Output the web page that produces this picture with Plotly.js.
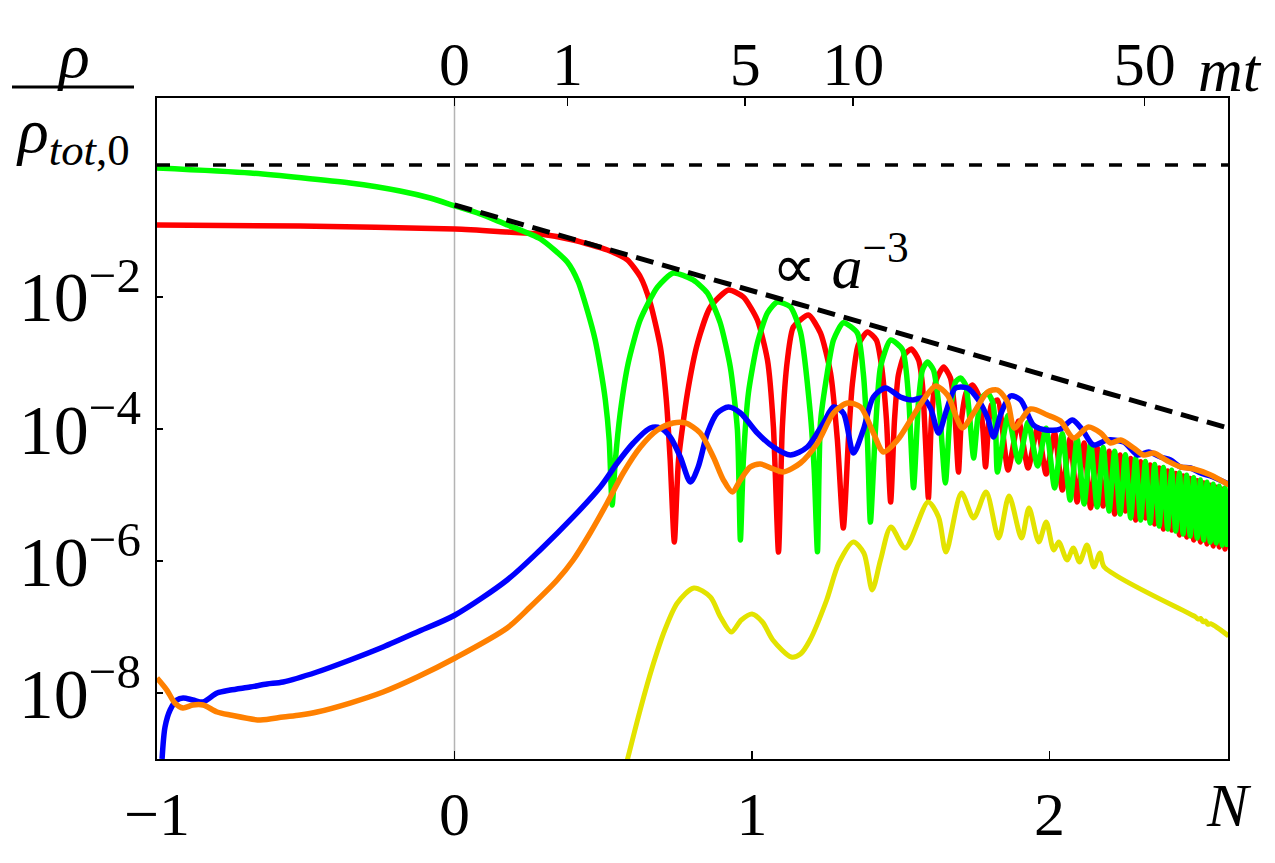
<!DOCTYPE html>
<html>
<head>
<meta charset="utf-8">
<script src="https://cdn.plot.ly/plotly-3.0.1.min.js"></script>
<style>html,body{margin:0;padding:0;background:#fff}#chart{width:1275px;height:863px}</style>
</head>
<body>
<div id="chart"></div>
<script>
// ---------- data (N = e-folds, values given as log10 of rho/rho_tot,0) ----------
const greenN = [-1.0,-0.687,-0.351,-0.183,-0.082,0.002,0.086,0.178,0.289,0.379,0.416,0.446,0.473,0.490,0.507,0.520,0.530,
  0.540,0.557,0.584,0.624,0.682,0.735,0.802,0.850,0.893,0.927,0.951,0.961,
  0.971,0.988,1.018,1.052,1.085,1.129,1.163,1.196,1.209,1.220,
  1.230,1.253,1.274,1.307,1.354,1.374,1.388,1.398,
  1.415,1.432,1.466,1.506,1.527,1.543,
  1.560,1.573,1.590,1.610,1.630,1.650,
  1.667,1.684,1.701,1.718,1.731,1.745,
  1.758,1.772,1.792,1.809,1.819,1.825,
  1.8607,1.8961,1.9280,1.9600,1.9886,2.0172,2.0432,2.0693,2.0928,2.1164,2.1382,2.1601,2.1803,2.2005,
  2.2190,2.2375,2.2551,2.2728,2.2896,2.3064,2.3224,2.3384,2.3535,2.3687,2.3829,2.3972,2.4107,2.4241,
  2.4367,2.4493,2.4611,2.4729,2.4847,2.4965,2.5074,2.5183,2.5293,2.5402,2.5503,2.5604,2.5705,2.5806,
  2.5898,2.5991];
const greenLog = [-0.045,-0.121,-0.273,-0.394,-0.5,-0.621,-0.742,-0.909,-1.121,-1.470,-1.773,-2.197,-2.652,-3.061,-3.561,-4.167,-5.152,
  -4.515,-3.76,-3.0,-2.35,-1.85,-1.636,-1.742,-1.94,-2.39,-3.06,-4.015,-5.68,
  -4.47,-3.455,-2.70,-2.24,-2.076,-2.15,-2.53,-3.76,-4.62,-5.86,
  -3.91,-3.15,-2.65,-2.39,-2.545,-3.15,-4.17,-5.41,
  -4.01,-3.06,-2.65,-2.80,-3.56,-4.89,
  -3.561,-3.106,-2.985,-3.106,-3.712,-4.818,
  -3.712,-3.288,-3.227,-3.333,-3.788,-4.439,
  -3.864,-3.530,-3.455,-3.591,-4.015,-4.652,
  -3.795,-4.50,-3.897,-4.56,-3.988,-4.894,-4.071,-5.076,-4.146,-5.136,-4.215,-5.182,-4.279,-5.242,
  -4.336,-5.288,-4.391,-5.348,-4.442,-5.379,-4.492,-5.424,-4.539,-5.47,-4.583,-5.515,-4.626,-5.545,
  -4.665,-5.591,-4.702,-5.621,-4.738,-5.652,-4.771,-5.682,-4.805,-5.712,-4.836,-5.727,-4.867,-5.758,
  -4.895,-5.788];

const redN = [-1.0,-0.519,0.002,0.177,0.288,0.399,0.514,0.581,0.625,0.658,0.692,0.712,0.725,0.739,
  0.753,0.783,0.817,0.860,0.921,0.971,1.018,1.052,1.072,1.089,
  1.102,1.119,1.139,1.190,1.230,1.264,1.287,1.307,
  1.324,1.337,1.357,1.388,1.418,1.435,1.452,1.466,
  1.479,1.492,1.512,1.536,1.560,1.573,1.583,1.593,
  1.603,1.617,1.644,1.667,1.681,1.694,
  1.704,1.721,1.741,1.761,1.775,1.785,
  1.795,1.805,1.8254,
  1.8607,1.8961,1.9280,1.9600,1.9886,2.0172,2.0432,2.0693,2.0928,2.1164,2.1382,2.1601,2.1803,2.2005,
  2.2190,2.2375,2.2551,2.2728,2.2896,2.3064,2.3224,2.3384,2.3535,2.3687,2.3829,2.3972,2.4107,2.4241,
  2.4367,2.4493,2.4611,2.4729,2.4847,2.4965,2.5074,2.5183,2.5293,2.5402,2.5503,2.5604,2.5705,2.5806,
  2.5898,2.5991];
const redLog = [-0.909,-0.924,-0.970,-1.015,-1.045,-1.136,-1.288,-1.439,-1.697,-2.09,-2.758,-3.56,-4.47,-5.712,
  -4.47,-3.455,-2.697,-2.152,-1.894,-2.0,-2.348,-2.955,-3.97,-5.864,
  -3.97,-2.955,-2.455,-2.273,-2.545,-3.152,-4.167,-5.5,
  -4.167,-3.333,-2.727,-2.530,-2.652,-3.03,-3.864,-5.106,
  -3.864,-3.182,-2.879,-2.788,-2.955,-3.333,-4.167,-5.045,
  -3.864,-3.288,-3.061,-3.227,-3.712,-4.652,
  -3.864,-3.439,-3.333,-3.485,-3.939,-4.576,
  -3.939,-3.636,-3.56,
  -4.621,-3.879,-4.591,-3.976,-4.682,-4.062,-4.924,-4.141,-5.106,-4.212,-5.197,-4.279,-5.167,-4.339,
  -5.288,-4.394,-5.242,-4.448,-5.379,-4.498,-5.348,-4.547,-5.439,-4.592,-5.515,-4.635,-5.530,-4.676,
  -5.606,-4.714,-5.636,-4.750,-5.682,-4.785,-5.712,-4.818,-5.742,-4.852,-5.773,-4.882,-5.788,-4.912,
  -5.818,-4.939];

const blueN = [-0.983,-0.973,-0.956,-0.933,-0.912,-0.879,-0.845,-0.798,-0.754,-0.687,-0.630,-0.576,-0.462,-0.351,-0.240,-0.125,0.002,
  0.177,0.288,0.399,0.490,0.547,0.601,0.658,0.692,0.725,0.759,0.793,0.819,0.850,0.883,0.921,0.961,1.018,1.072,1.129,1.186,1.240,1.274,1.307,1.341,
  1.374,1.408,1.449,1.499,1.540,1.573,1.600,1.627,1.654,1.684,1.724,1.761,1.792,1.812,1.835,1.869,1.903,1.946,1.987,2.037,2.077,2.111,2.148,
  2.195,2.249,2.296,2.333,2.373,2.407,2.441,2.474,2.508,2.541,2.602];
const blueLog = [-9.0,-8.515,-8.258,-8.106,-8.076,-8.106,-8.136,-8.0,-7.955,-7.909,-7.864,-7.833,-7.682,-7.5,-7.303,-7.076,-6.818,
  -6.288,-5.833,-5.333,-4.879,-4.515,-4.212,-3.985,-3.985,-4.121,-4.424,-4.803,-4.576,-4.061,-3.758,-3.667,-3.758,-4.061,-4.273,-4.394,-4.273,-3.909,-3.667,-3.758,-4.364,
  -4.015,-3.515,-3.379,-3.515,-3.561,-3.530,-3.682,-4.061,-3.712,-3.379,-3.379,-3.561,-3.833,-4.121,-3.788,-3.5,-3.561,-3.939,-4.015,-4.0,-3.864,-4.015,-4.242,
  -4.167,-4.197,-4.394,-4.348,-4.424,-4.470,-4.576,-4.591,-4.667,-4.712,-4.833];

const orangeN = [-1.0,-0.967,-0.940,-0.913,-0.879,-0.845,-0.798,-0.754,-0.654,-0.576,-0.519,-0.462,-0.351,-0.240,-0.125,0.002,
  0.177,0.254,0.345,0.399,0.456,0.513,0.567,0.625,0.682,0.735,0.776,0.826,0.870,0.904,0.934,0.961,0.994,1.028,1.072,1.105,1.163,1.220,1.274,1.321,1.365,
  1.408,1.442,1.489,1.533,1.576,1.617,1.657,1.684,1.707,1.745,1.792,1.825,1.859,1.882,1.936,1.993,2.037,2.081,2.131,2.172,2.205,2.239,
  2.283,2.316,2.350,2.397,2.441,2.485,2.542,2.603];
const orangeLog = [-7.773,-7.955,-8.152,-8.227,-8.182,-8.182,-8.288,-8.333,-8.409,-8.364,-8.333,-8.288,-8.152,-7.985,-7.758,-7.470,
  -7.015,-6.697,-6.288,-5.985,-5.576,-5.121,-4.667,-4.273,-4.015,-3.909,-3.909,-4.061,-4.424,-4.773,-4.955,-4.773,-4.576,-4.530,-4.606,-4.652,-4.515,-4.212,-3.758,-3.606,-3.667,
  -4.061,-4.348,-4.167,-3.864,-3.561,-3.348,-3.485,-3.788,-3.985,-3.758,-3.439,-3.409,-3.591,-3.985,-3.697,-3.788,-3.879,-4.136,-3.970,-4.061,-4.212,-4.167,
  -4.288,-4.394,-4.364,-4.485,-4.576,-4.606,-4.697,-4.848];

const yellowN = [0.565,0.624,0.665,0.707,0.749,0.805,0.860,0.894,0.930,0.964,1.000,1.035,1.070,1.132,1.163,1.195,1.251,1.292,1.341,1.376,1.404,1.432,1.467,1.515,
  1.592,1.627,1.652,1.704,1.745,1.787,1.829,1.864,1.906,1.931,1.964,1.989,2.014,2.031,2.059,2.080,2.101,2.126,2.149,2.170,2.184,
  2.491,2.500,2.508,2.516,2.525,2.533,2.542,2.602];
const yellowLog = [-9.3,-8.258,-7.606,-7.045,-6.636,-6.409,-6.545,-6.848,-7.076,-6.894,-6.803,-6.924,-7.197,-7.455,-7.409,-7.197,-6.591,-6.030,-5.712,-5.879,-6.439,-5.985,-5.485,-5.803,
  -5.106,-5.333,-5.864,-4.970,-5.348,-4.955,-5.652,-5.015,-5.652,-5.197,-5.712,-5.409,-5.833,-5.712,-5.985,-5.803,-6.015,-5.758,-6.091,-5.879,-6.091,
  -6.848,-6.88,-6.87,-6.92,-6.91,-6.96,-6.95,-7.136];

const totalN = [-1.0, 2.6];
const totalLog = [0.0, 0.0];
const scalingN = [0.0, 2.6];
const scalingLog = [-0.606, -3.985];

const xTickVals = [-1, 0, 1, 2];
const xTickText = ['\u22121', '0', '1', '2'];
const yTickVals = [1e-2, 1e-4, 1e-6, 1e-8];
const yTickText = ['10<sup>\u22122</sup>', '10<sup>\u22124</sup>', '10<sup>\u22126</sup>', '10<sup>\u22128</sup>'];
const topTickN = [0, 0.38, 0.977, 1.34, 2.32];
const topTickText = ['0', '1', '5', '10', '50'];

// ---------- drawing ----------
const pw = a => a.map(v => Math.pow(10, v));
const FONT = 'Liberation Serif';

const traces = [
  {x: redN, y: pw(redLog), mode: 'lines', line: {color: '#ff0000', width: 5.5, shape: 'spline', smoothing: 0.6}},
  {x: greenN, y: pw(greenLog), mode: 'lines', line: {color: '#00ff00', width: 5.5, shape: 'spline', smoothing: 0.6}},
  {x: yellowN, y: pw(yellowLog), mode: 'lines', line: {color: '#e3e300', width: 5, shape: 'spline', smoothing: 0.8}},
  {x: blueN, y: pw(blueLog), mode: 'lines', line: {color: '#0000ff', width: 5.5, shape: 'spline', smoothing: 0.8}},
  {x: orangeN, y: pw(orangeLog), mode: 'lines', line: {color: '#ff8000', width: 5.5, shape: 'spline', smoothing: 0.8}},
  {x: totalN, y: pw(totalLog), xaxis: 'x2', mode: 'lines', line: {color: '#000', width: 3.5, dash: '13px,15px'}},
  {x: scalingN, y: pw(scalingLog), mode: 'lines', line: {color: '#000', width: 5, dash: '18px,9px'}}
];

const px2paperX = p => (p - 157) / 1071;
const px2paperY = p => (759 - p) / 661;

const layout = {
  width: 1275, height: 863,
  margin: {l: 157, r: 47, t: 98, b: 104, pad: 0},
  paper_bgcolor: '#fff', plot_bgcolor: '#fff',
  showlegend: false,
  font: {family: FONT, size: 60, color: '#000'},
  xaxis: {range: [-1, 2.6], tickmode: 'array', tickvals: xTickVals, ticktext: xTickText,
    ticks: 'inside', ticklen: 8, tickwidth: 1.5, tickcolor: '#000',
    showline: true, linecolor: '#000', linewidth: 2, mirror: true,
    showgrid: false, zeroline: false, tickfont: {family: FONT, size: 62}},
  xaxis2: {overlaying: 'x', side: 'top', range: [-1, 2.6], tickmode: 'array', tickvals: topTickN, ticktext: topTickText,
    ticks: 'inside', ticklen: 8, tickwidth: 1.5, tickcolor: '#000', showline: false,
    showgrid: false, zeroline: false, tickfont: {family: FONT, size: 62}},
  yaxis: {type: 'log', range: [-9, 1.015], tickmode: 'array', tickvals: yTickVals, ticktext: yTickText,
    ticks: 'inside', ticklen: 6, tickwidth: 1.5, tickcolor: '#000',
    showline: true, linecolor: '#000', linewidth: 2, mirror: true,
    showgrid: false, zeroline: false, tickfont: {family: FONT, size: 70}},
  shapes: [
    {type: 'line', xref: 'x', yref: 'paper', x0: 0, x1: 0, y0: 0, y1: 1, layer: 'below', line: {color: '#b4b4b4', width: 1.5}},
    {type: 'line', xref: 'paper', yref: 'paper', x0: px2paperX(12), x1: px2paperX(134), y0: px2paperY(87), y1: px2paperY(87), line: {color: '#000', width: 3}}
  ],
  annotations: [
    {xref: 'paper', yref: 'paper', x: px2paperX(73), y: px2paperY(55), text: '<i>ρ</i>', showarrow: false, font: {family: FONT, size: 64}, xanchor: 'center', yanchor: 'middle'},
    {xref: 'paper', yref: 'paper', x: px2paperX(73), y: px2paperY(135), text: '<i>ρ</i><sub><i>tot</i>,0</sub>', showarrow: false, font: {family: FONT, size: 64}, xanchor: 'center', yanchor: 'middle'},
    {xref: 'paper', yref: 'paper', x: px2paperX(840), y: px2paperY(262), text: '\u221D <i>a</i><sup>\u22123</sup>', showarrow: false, font: {family: FONT, size: 62}, xanchor: 'center', yanchor: 'middle'},
    {xref: 'paper', yref: 'paper', x: px2paperX(1230), y: px2paperY(70), text: '<i>mt</i>', showarrow: false, font: {family: FONT, size: 62}, xanchor: 'center', yanchor: 'middle'},
    {xref: 'paper', yref: 'paper', x: px2paperX(1229), y: px2paperY(805), text: '<i>N</i>', showarrow: false, font: {family: FONT, size: 62}, xanchor: 'center', yanchor: 'middle'}
  ]
};

Plotly.newPlot('chart', traces, layout, {staticPlot: true, displayModeBar: false});
</script>
</body>
</html>
